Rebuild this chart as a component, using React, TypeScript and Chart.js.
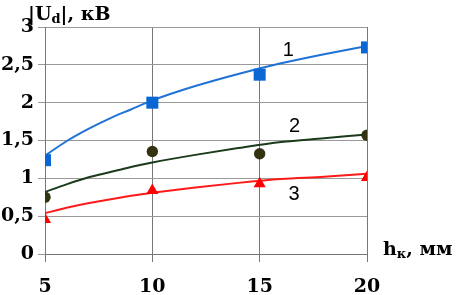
import { useEffect, useRef } from 'react';
import { Chart, registerables } from 'chart.js';

Chart.register(...registerables);

const pointX = [5, 10, 15, 20];
const points1 = [1.24, 2.0, 2.37, 2.73];
const points2 = [0.75, 1.355, 1.325, 1.57];
const points3 = [0.455, 0.84, 0.93, 1.01];

const trendX = [5, 6, 7, 8, 9, 10, 12, 14, 16, 18, 20];
const trend1 = [1.3, 1.49, 1.65, 1.79, 1.91, 2.03, 2.22, 2.38, 2.52, 2.64, 2.75];
const trend2 = [0.82, 0.92, 1.01, 1.08, 1.15, 1.21, 1.31, 1.4, 1.48, 1.53, 1.58];
const trend3 = [0.54, 0.61, 0.67, 0.72, 0.77, 0.81, 0.88, 0.94, 0.99, 1.02, 1.06];

const yTickLabels = ['0', '0,5', '1', '1,5', '2', '2,5', '3'];
const curveNames = ['1', '2', '3'];
const curveNameX = [16.34, 16.62, 16.6];
const curveNameY = [2.69, 1.69, 0.78];

const serif = 'DejaVu Serif';

const toXY = (xs: number[], ys: number[]) => xs.map((x, i) => ({ x, y: ys[i] }));

const textPlugin = {
  id: 'texts',
  afterDraw(chart: any) {
    const ctx = chart.ctx as CanvasRenderingContext2D;
    const xs = chart.scales.x;
    const ys = chart.scales.y;
    ctx.save();
    ctx.fillStyle = '#000';
    ctx.textAlign = 'center';
    ctx.textBaseline = 'middle';
    ctx.font = '20px "Liberation Sans"';
    curveNames.forEach((n, i) => {
      ctx.fillText(n, xs.getPixelForValue(curveNameX[i]), ys.getPixelForValue(curveNameY[i]));
    });
    const drawRuns = (x0: number, y0: number, runs: { t: string; s: number; dy: number }[]) => {
      let x = x0;
      ctx.textAlign = 'left';
      ctx.textBaseline = 'alphabetic';
      runs.forEach((r) => {
        ctx.font = `bold ${r.s}px "${serif}"`;
        ctx.fillText(r.t, x, y0 + r.dy);
        x += ctx.measureText(r.t).width;
      });
    };
    const a = chart.chartArea;
    drawRuns(a.left - 17, a.top - 7, [
      { t: '|U', s: 19, dy: 0 },
      { t: 'd', s: 13, dy: 3 },
      { t: '|, кВ', s: 19, dy: 0 },
    ]);
    drawRuns(a.right + 16, a.bottom + 1, [
      { t: 'h', s: 19, dy: 0 },
      { t: 'к', s: 13, dy: 3 },
      { t: ', мм', s: 19, dy: 0 },
    ]);
    ctx.restore();
  },
};

export default function App() {
  const ref = useRef<HTMLCanvasElement>(null);
  useEffect(() => {
    document.body.style.margin = '0';
    const tickFont = { family: serif, size: 19, weight: 'bold' as const };
    const chart = new Chart(ref.current!, {
      type: 'scatter',
      data: {
        datasets: [
          {
            data: toXY(pointX, points1),
            pointStyle: 'rect',
            pointRadius: 8.5,
            backgroundColor: '#0a66d2',
            borderColor: '#0a66d2',
            borderWidth: 0,
            showLine: false,
            order: 0,
          },
          {
            data: toXY(pointX, points2),
            pointStyle: 'circle',
            pointRadius: 5.7,
            backgroundColor: '#333311',
            borderColor: '#333311',
            borderWidth: 0,
            showLine: false,
            order: 0,
          },
          {
            data: toXY(pointX, points3),
            pointStyle: 'triangle',
            pointRadius: 7,
            backgroundColor: '#ff0000',
            borderColor: '#ff0000',
            borderWidth: 0,
            showLine: false,
            order: 0,
          },
          {
            type: 'line',
            data: toXY(trendX, trend1),
            borderColor: '#1f72d6',
            borderWidth: 2,
            pointRadius: 0,
            tension: 0.4,
            cubicInterpolationMode: 'monotone',
            order: 1,
          },
          {
            type: 'line',
            data: toXY(trendX, trend2),
            borderColor: '#1c3a1c',
            borderWidth: 2,
            pointRadius: 0,
            cubicInterpolationMode: 'monotone',
            order: 1,
          },
          {
            type: 'line',
            data: toXY(trendX, trend3),
            borderColor: '#ff1a1a',
            borderWidth: 2,
            pointRadius: 0,
            cubicInterpolationMode: 'monotone',
            order: 1,
          },
        ] as any,
      },
      options: {
        responsive: false,
        devicePixelRatio: 1,
        animation: false,
        layout: { padding: { top: 27, right: 90, left: 0, bottom: 0 } },
        plugins: { legend: { display: false }, tooltip: { enabled: false } },
        scales: {
          x: {
            type: 'linear',
            min: 5,
            max: 20,
            ticks: { stepSize: 5, font: tickFont, color: '#000', padding: 14, maxRotation: 0 },
            grid: { color: '#777', tickLength: 8 },
            border: { color: '#777' },
            afterFit: (s: any) => {
              s.height = 41;
            },
          },
          y: {
            min: 0,
            max: 3,
            ticks: {
              stepSize: 0.5,
              font: tickFont,
              color: '#000',
              padding: 4,
              callback: (_v: any, i: number) => yTickLabels[i],
            },
            grid: { color: '#999', tickLength: 7 },
            border: { color: '#777' },
            afterFit: (s: any) => {
              s.width = 45;
            },
          },
        },
      },
      plugins: [textPlugin],
    });
    return () => chart.destroy();
  }, []);
  return (
    <div style={{ position: 'absolute', left: 0, top: 0, width: 457, height: 295, background: '#fff' }}>
      <canvas ref={ref} width={457} height={295} style={{ display: 'block' }} />
    </div>
  );
}
